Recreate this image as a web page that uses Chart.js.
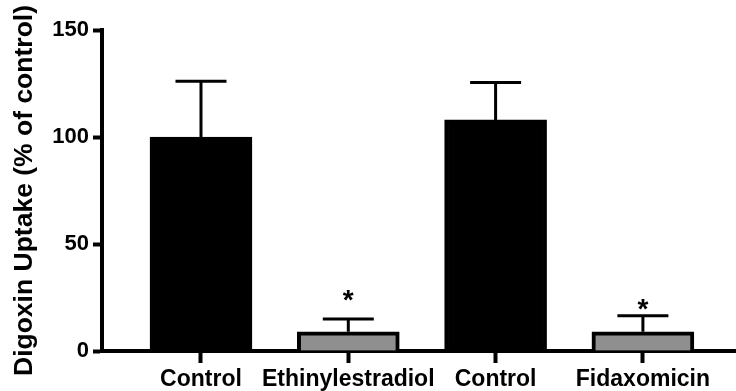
<!DOCTYPE html>
<html>
<head>
<meta charset="utf-8">
<script src="https://cdn.jsdelivr.net/npm/chart.js@4/dist/chart.umd.min.js"></script>
<style>
    html, body { margin:0; padding:0; background:#ffffff; }
    #wrap { width:736px; height:391px; position:relative; }
</style>
</head>
<body>
<div id="wrap"><canvas id="grafico"></canvas></div>
<script>
// ==========================
// DADOS
// ==========================
const categorias = ["Control", "Ethinylestradiol", "Control", "Fidaxomicin"];

const valores = [100, 9, 108, 9];

const erros = [26, 6, 17.5, 7.5];

// altura (em % of control) onde o asterisco fica
const asteriscos = [null, 27, null, 23];

const ticksY = [0, 50, 100, 150];

const cores = ["#000000", "#8f8f8f", "#000000", "#8f8f8f"];

const fonte = "'Liberation Sans', Arial, Helvetica, sans-serif";

// ==========================
// ERROS + ASTERISCOS
// ==========================
const pluginErros = {

    id: "erros",

    afterDatasetsDraw(chart){

        const ctx = chart.ctx;
        const x = chart.scales.x;
        const y = chart.scales.y;

        ctx.save();
        ctx.strokeStyle = "#000";
        ctx.lineWidth = 3;
        ctx.lineCap = "butt";

        valores.forEach((v, i) => {

            const px = x.getPixelForValue(i);
            const yBar = y.getPixelForValue(v);
            const yTop = y.getPixelForValue(v + erros[i]);

            ctx.beginPath();
            ctx.moveTo(px, yBar);
            ctx.lineTo(px, yTop);
            ctx.moveTo(px - 25.5, yTop);
            ctx.lineTo(px + 25.5, yTop);
            ctx.stroke();

            if(asteriscos[i] !== null){

                const yStar = y.getPixelForValue(asteriscos[i]);

                ctx.fillStyle = "#000";
                ctx.font = "bold 28px " + fonte;
                ctx.textAlign = "center";
                ctx.textBaseline = "alphabetic";
                ctx.fillText("*", px, yStar + 16);
            }
        });

        ctx.restore();
    }
};

// ==========================
// GRAFICO
// ==========================
new Chart(document.getElementById("grafico"), {

    type: "bar",

    data: {

        datasets: [{

            data: valores.map((v, i) => ({ x: i, y: v })),

            backgroundColor: cores,

            borderColor: "#000000",

            borderWidth: 4,

            borderSkipped: "start",

            barThickness: 102
        }]
    },

    options: {

        responsive: true,

        maintainAspectRatio: false,

        animation: false,

        layout: {
            padding: { top: 30, left: 0, right: 0, bottom: 0 }
        },

        plugins: {
            legend: { display: false },
            tooltip: { enabled: false }
        },

        scales: {

            x: {

                type: "linear",

                offset: false,

                min: -0.672,

                max: 3.632,

                afterBuildTicks(scale){
                    scale.ticks = categorias.map((c, i) => ({ value: i }));
                },

                afterFit(scale){
                    scale.height = 40;
                },

                grid: {
                    offset: false,
                    drawOnChartArea: false,
                    drawTicks: true,
                    tickLength: 12,
                    tickWidth: 4,
                    tickColor: "#000"
                },

                border: { display: true, width: 4, color: "#000" },

                ticks: {
                    autoSkip: false,
                    maxRotation: 0,
                    padding: 3,
                    color: "#000",
                    font: { family: fonte, size: 23, weight: "bold" },
                    callback: (v) => categorias[v]
                }
            },

            y: {

                min: 0,

                max: 150,

                afterBuildTicks(scale){
                    scale.ticks = ticksY.map(t => ({ value: t }));
                },

                afterFit(scale){
                    scale.width = 102;
                },

                grid: {
                    drawOnChartArea: false,
                    drawTicks: true,
                    tickLength: 9,
                    tickWidth: 4,
                    tickColor: "#000"
                },

                border: { display: true, width: 4, color: "#000" },

                ticks: {
                    padding: 4,
                    color: "#000",
                    font: { family: fonte, size: 22, weight: "bold" }
                },

                title: {
                    display: true,
                    text: "Digoxin Uptake (% of control)",
                    color: "#000",
                    padding: { top: 9, bottom: 0 },
                    font: { family: fonte, size: 26.5, weight: "bold" }
                }
            }
        }
    },

    plugins: [pluginErros]
});
</script>
</body>
</html>
